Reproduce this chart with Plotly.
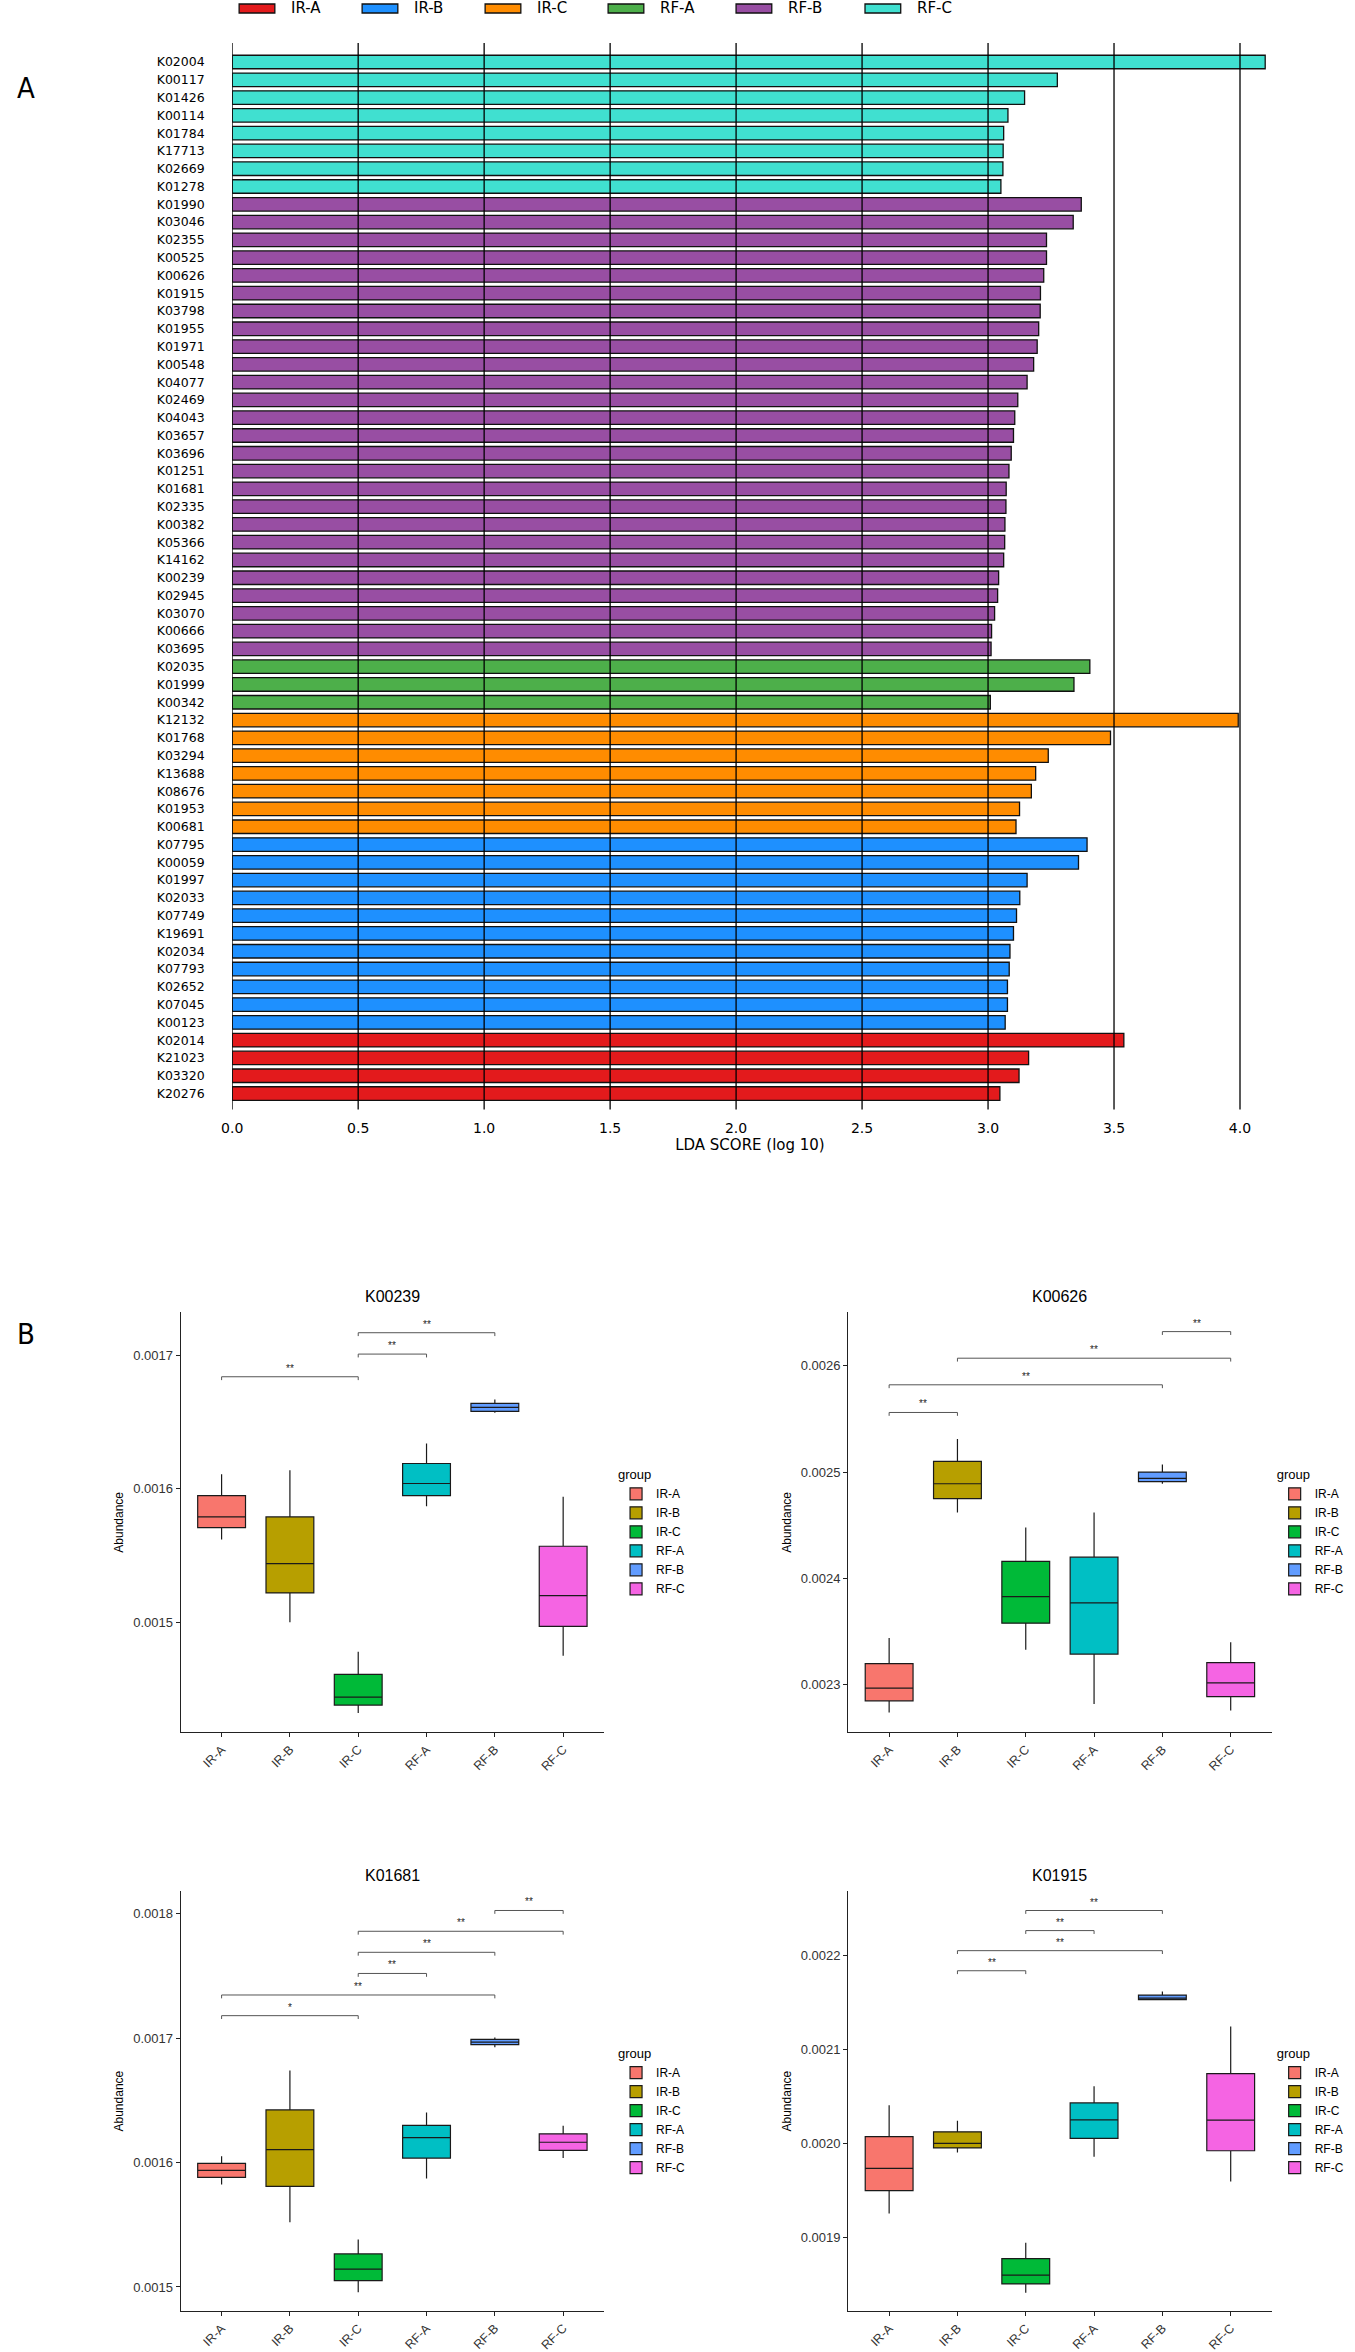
import plotly.graph_objects as go

W, H = 1355, 2352

# ---- panel A : LDA scores ----
groups = ["IR-A", "IR-B", "IR-C", "RF-A", "RF-B", "RF-C"]
lda_colors = ["#E31A1C", "#1E90FF", "#FF8C00", "#4DAF4A", "#984EA3", "#40E0D0"]

rfc_names = ["K02004", "K00117", "K01426", "K00114", "K01784", "K17713", "K02669", "K01278"]
rfc_lda = [4.100, 3.275, 3.145, 3.079, 3.062, 3.060, 3.059, 3.051]
rfb_names = ["K01990", "K03046", "K02355", "K00525", "K00626", "K01915", "K03798", "K01955",
             "K01971", "K00548", "K04077", "K02469", "K04043", "K03657", "K03696", "K01251",
             "K01681", "K02335", "K00382", "K05366", "K14162", "K00239", "K02945", "K03070",
             "K00666", "K03695"]
rfb_lda = [3.370, 3.338, 3.232, 3.232, 3.221, 3.208, 3.207, 3.201, 3.195, 3.181, 3.155, 3.118,
           3.106, 3.101, 3.092, 3.083, 3.072, 3.071, 3.067, 3.066, 3.062, 3.042, 3.038, 3.026,
           3.014, 3.012]
rfa_names = ["K02035", "K01999", "K00342"]
rfa_lda = [3.404, 3.341, 3.009]
irc_names = ["K12132", "K01768", "K03294", "K13688", "K08676", "K01953", "K00681"]
irc_lda = [3.993, 3.486, 3.239, 3.189, 3.172, 3.125, 3.111]
irb_names = ["K07795", "K00059", "K01997", "K02033", "K07749", "K19691", "K02034", "K07793",
             "K02652", "K07045", "K00123"]
irb_lda = [3.393, 3.359, 3.155, 3.126, 3.113, 3.101, 3.087, 3.084, 3.077, 3.077, 3.068]
ira_names = ["K02014", "K21023", "K03320", "K20276"]
ira_lda = [3.539, 3.161, 3.123, 3.047]

lda_ticks = [0.0, 0.5, 1.0, 1.5, 2.0, 2.5, 3.0, 3.5, 4.0]

# ---- panel B : box plots (precomputed stats) ----
box_colors = ["#F8766D", "#B79F00", "#00BA38", "#00BFC4", "#619CFF", "#F564E3"]

k00239_low = [0.001562, 0.001500, 0.001432, 0.001587, 0.001657, 0.001475]
k00239_q1 = [0.001571, 0.001522, 0.001438, 0.001595, 0.001658, 0.001497]
k00239_med = [0.001579, 0.001544, 0.001444, 0.001604, 0.001661, 0.001520]
k00239_q3 = [0.001595, 0.001579, 0.001461, 0.001619, 0.001664, 0.001557]
k00239_high = [0.001611, 0.001614, 0.001478, 0.001634, 0.001667, 0.001594]
k00239_sig = [("IR-A", "IR-C", 0.001684, "**"), ("IR-C", "RF-A", 0.001701, "**"),
              ("IR-C", "RF-B", 0.001717, "**")]

k00626_low = [0.002274, 0.002462, 0.002333, 0.002282, 0.002489, 0.002276]
k00626_q1 = [0.002285, 0.002475, 0.002358, 0.002329, 0.002491, 0.002289]
k00626_med = [0.002297, 0.002489, 0.002383, 0.002377, 0.002494, 0.002302]
k00626_q3 = [0.002320, 0.002510, 0.002416, 0.002420, 0.002500, 0.002321]
k00626_high = [0.002344, 0.002531, 0.002448, 0.002462, 0.002507, 0.002340]
k00626_sig = [("IR-A", "IR-B", 0.002556, "**"), ("IR-A", "RF-B", 0.002582, "**"),
              ("IR-B", "RF-C", 0.002607, "**"), ("RF-B", "RF-C", 0.002632, "**")]

k01681_low = [0.0015823, 0.0015521, 0.0014958, 0.0015871, 0.0016927, 0.0016036]
k01681_q1 = [0.0015880, 0.0015809, 0.0015051, 0.0016036, 0.0016947, 0.0016098]
k01681_med = [0.0015937, 0.0016104, 0.0015144, 0.0016200, 0.0016967, 0.0016163]
k01681_q3 = [0.0015993, 0.0016423, 0.0015266, 0.0016299, 0.0016990, 0.0016231]
k01681_high = [0.0016050, 0.0016740, 0.0015382, 0.0016401, 0.0017004, 0.0016296]
k01681_sig = [("IR-A", "IR-C", 0.0017180, "*"), ("IR-A", "RF-B", 0.0017346, "**"),
              ("IR-C", "RF-A", 0.0017519, "**"), ("IR-C", "RF-B", 0.0017689, "**"),
              ("IR-C", "RF-C", 0.0017858, "**"), ("RF-B", "RF-C", 0.0018025, "**")]

k01915_low = [0.0019251, 0.0019901, 0.0018406, 0.0019856, 0.0021527, 0.0019593]
k01915_q1 = [0.0019495, 0.0019950, 0.0018500, 0.0020051, 0.0021531, 0.0019920]
k01915_med = [0.0019732, 0.0019998, 0.0018594, 0.0020250, 0.0021546, 0.0020246]
k01915_q3 = [0.0020070, 0.0020122, 0.0018770, 0.0020430, 0.0021580, 0.0020742]
k01915_high = [0.0020404, 0.0020239, 0.0018940, 0.0020607, 0.0021617, 0.0021245]
k01915_sig = [("IR-B", "IR-C", 0.0021839, "**"), ("IR-B", "RF-B", 0.0022053, "**"),
              ("IR-C", "RF-A", 0.0022267, "**"), ("IR-C", "RF-B", 0.0022481, "**")]


def px(x):
    return x / W


def py(y):
    return 1 - y / H


fig = go.Figure()

# LDA bars, one trace per group
lda_sets = [
    ("IR-A", ira_names, ira_lda), ("IR-B", irb_names, irb_lda), ("IR-C", irc_names, irc_lda),
    ("RF-A", rfa_names, rfa_lda), ("RF-B", rfb_names, rfb_lda), ("RF-C", rfc_names, rfc_lda),
]
top_to_bottom = rfc_names + rfb_names + rfa_names + irc_names + irb_names + ira_names
for grp, names, vals in lda_sets:
    fig.add_trace(go.Bar(
        x=vals, y=names, orientation="h", name=grp,
        marker=dict(color=lda_colors[groups.index(grp)], line=dict(color="#111111", width=1.3)),
        showlegend=False, xaxis="x", yaxis="y",
    ))

# vertical reference lines drawn over the bars
for v in lda_ticks:
    fig.add_shape(type="line", xref="x", yref="y domain", x0=v, x1=v, y0=0, y1=1,
                  line=dict(color="black", width=1.3), layer="above")

# hand-made legend on top (wide patches like the original)
legend_left = [230, 354, 478, 602, 731, 861]
for i, grp in enumerate(groups):
    x0 = legend_left[i]
    fig.add_shape(type="rect", xref="paper", yref="paper",
                  x0=px(x0), x1=px(x0 + 36), y0=py(13), y1=py(4),
                  fillcolor=lda_colors[i], line=dict(color="#111111", width=1.3))
    fig.add_annotation(text=grp, xref="paper", yref="paper", x=px(x0 + 50), y=py(8.5),
                       xanchor="left", yanchor="middle", showarrow=False,
                       font=dict(family="DejaVu Sans", size=15, color="black"))

n = len(top_to_bottom)
fig.update_layout(
    xaxis=dict(domain=[px(223), px(1267)], range=[0, 4.11], tickvals=lda_ticks,
               ticktext=["%.1f" % t for t in lda_ticks], showgrid=False, zeroline=False,
               showline=False, ticks="outside", ticklen=6, tickcolor="rgba(0,0,0,0)",
               tickfont=dict(family="DejaVu Sans", size=14, color="black"),
               title=dict(text="LDA SCORE (log 10)", standoff=4,
                          font=dict(family="DejaVu Sans", size=15, color="black"))),
    yaxis=dict(domain=[py(1110), py(43)], type="category", categoryorder="array",
               categoryarray=top_to_bottom[::-1], range=[-0.9, n - 1 + 1.07],
               showgrid=False, zeroline=False, showline=False,
               ticks="outside", ticklen=24, tickcolor="rgba(0,0,0,0)",
               tickfont=dict(family="DejaVu Sans", size=12.5, color="black")),
    barmode="overlay", bargap=0.24,
)

# panel letters
for letter, yc in [("A", 88), ("B", 1335)]:
    fig.add_annotation(text=letter, xref="paper", yref="paper", x=px(4), y=py(yc),
                       xanchor="left", yanchor="middle", showarrow=False,
                       font=dict(family="Liberation Sans Narrow, DejaVu Sans Condensed, Roboto",
                                 size=29, color="black"))

# box panels: (title, stats..., y range, x span, y span, legend x)
panels = [
    ("K00239", k00239_low, k00239_q1, k00239_med, k00239_q3, k00239_high, k00239_sig,
     [0.0014176, 0.0017322], (171, 598), (1313, 1733), 610),
    ("K00626", k00626_low, k00626_q1, k00626_med, k00626_q3, k00626_high, k00626_sig,
     [0.0022555, 0.0026500], (844, 1271), (1313, 1733), 1274),
    ("K01681", k01681_low, k01681_q1, k01681_med, k01681_q3, k01681_high, k01681_sig,
     [0.0014807, 0.0018180], (171, 598), (1892, 2312), 610),
    ("K01915", k01915_low, k01915_q1, k01915_med, k01915_q3, k01915_high, k01915_sig,
     [0.0018211, 0.0022687], (844, 1271), (1892, 2312), 1274),
]

base_font = "Liberation Sans, Arial, sans-serif"
for k, (title, low, q1, med, q3, high, sig, yr, (xl, xr), (yt, yb), lgx) in enumerate(panels):
    ax = k + 2
    xa, ya, lg = "x%d" % ax, "y%d" % ax, "legend%d" % ax
    for i, grp in enumerate(groups):
        fig.add_trace(go.Box(
            x=[grp], q1=[q1[i]], median=[med[i]], q3=[q3[i]],
            lowerfence=[low[i]], upperfence=[high[i]], name=grp,
            fillcolor=box_colors[i], line=dict(color="#1a1a1a", width=1.2),
            whiskerwidth=0, width=0.7, boxpoints=False, hoverinfo="skip",
            xaxis=xa, yaxis=ya, legend=lg, showlegend=True,
        ))
    tip = (yr[1] - yr[0]) * 0.008
    for g1, g2, yv, lab in sig:
        fig.add_trace(go.Scatter(
            x=[g1, g1, g2, g2], y=[yv - tip, yv, yv, yv - tip], mode="lines",
            line=dict(color="#555555", width=1), showlegend=False, hoverinfo="skip",
            xaxis=xa, yaxis=ya,
        ))
        mid = (groups.index(g1) + groups.index(g2)) / 2
        fig.add_annotation(text=lab, x=mid, y=yv, xref=xa, yref=ya, showarrow=False,
                           yanchor="bottom", yshift=1,
                           font=dict(family=base_font, size=10, color="#222222"))
    fig.add_annotation(text=title, xref=xa + " domain", yref=ya + " domain", x=0.5, y=1,
                       xanchor="center", yanchor="bottom", yshift=5, showarrow=False,
                       font=dict(family=base_font, size=16, color="black"))
    axis_common = dict(showgrid=False, zeroline=False, showline=True, linecolor="#222222",
                       linewidth=1.1, ticks="outside", ticklen=4, tickcolor="#222222")
    fig.update_layout(**{
        "xaxis%d" % ax: dict(domain=[px(xl), px(xr)], anchor=ya, type="category",
                             categoryorder="array", categoryarray=groups, range=[-0.6, 5.6],
                             tickangle=-45,
                             tickfont=dict(family=base_font, size=12.5, color="#333333"),
                             **axis_common),
        "yaxis%d" % ax: dict(domain=[py(yb), py(yt)], anchor=xa, range=yr, dtick=0.0001,
                             tick0=0, tickformat=".4f",
                             tickfont=dict(family=base_font, size=13, color="#333333"),
                             title=dict(text="Abundance", standoff=6,
                                        font=dict(family=base_font, size=12, color="black")),
                             **axis_common),
        lg: dict(x=px(lgx), y=py(yt + 150), xanchor="left", yanchor="top",
                 title=dict(text="group", font=dict(family=base_font, size=13, color="black")),
                 font=dict(family=base_font, size=12, color="black"),
                 bgcolor="rgba(0,0,0,0)", tracegroupgap=0, itemwidth=30),
    })

fig.update_layout(width=W, height=H, margin=dict(l=0, r=0, t=0, b=0),
                  plot_bgcolor="white", paper_bgcolor="white", boxmode="overlay")

# the page body has a default 8px margin; drop it so the figure fills the window
fig.write_html("out.html", config={"displayModeBar": False},
               post_script="document.body.style.margin='0';")
